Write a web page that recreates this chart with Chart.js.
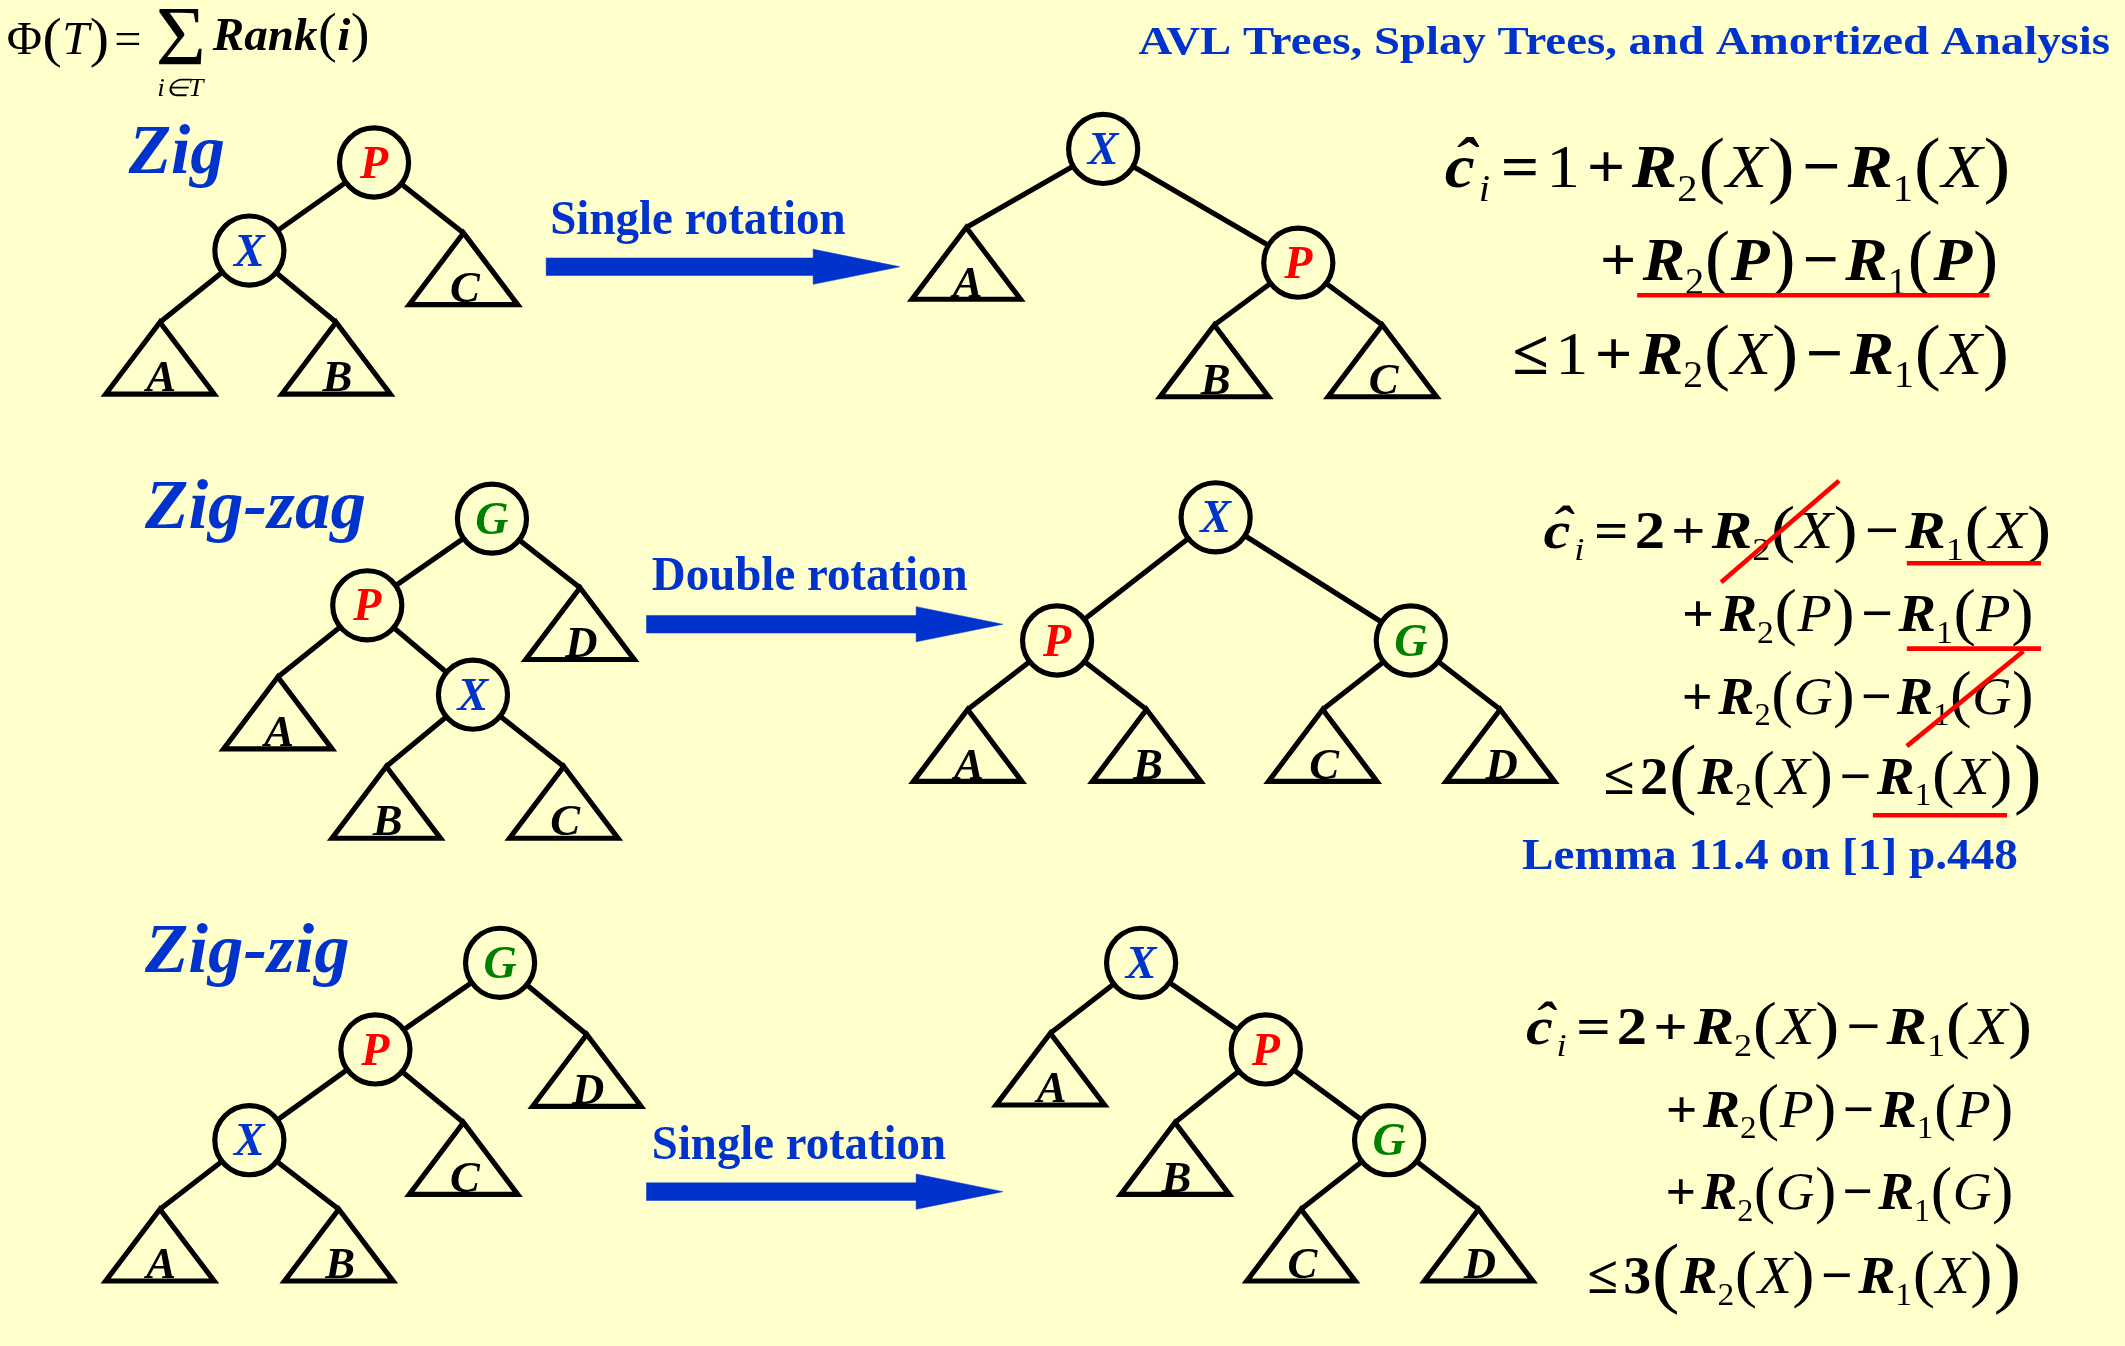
<!DOCTYPE html>
<html>
<head>
<meta charset="utf-8">
<title>Splay tree rotations</title>
<script src="https://cdn.jsdelivr.net/npm/chart.js@4.4.1/dist/chart.umd.min.js"></script>
<style>
  html, body { margin: 0; padding: 0; background: #ffffcc; overflow: hidden; }
  canvas { display: block; }
</style>
</head>
<body>
<canvas id="splay" width="2125" height="1346"></canvas>
<script>
// slide coordinates: 1568 x 994, y grows downwards
var W = 1568, H = 994;

// trees: nodes [label, x, y], subtrees [label, apexX, apexY], edges [parent, child]
var zigBeforeNodes = [['P', 276, 120], ['X', 184, 185]];
var zigBeforeSubs = [['A', 118, 238], ['B', 248, 238], ['C', 342, 172]];
var zigBeforeEdges = [['P', 'X'], ['P', 'C'], ['X', 'A'], ['X', 'B']];

var zigAfterNodes = [['X', 814, 110], ['P', 958, 194]];
var zigAfterSubs = [['A', 713, 168], ['B', 896, 240], ['C', 1020, 240]];
var zigAfterEdges = [['X', 'A'], ['X', 'P'], ['P', 'B'], ['P', 'C']];

var zigzagBeforeNodes = [['G', 363, 383], ['P', 271, 447], ['X', 349, 513]];
var zigzagBeforeSubs = [['D', 428, 434], ['A', 205, 500], ['B', 285, 566], ['C', 416, 566]];
var zigzagBeforeEdges = [['G', 'P'], ['G', 'D'], ['P', 'A'], ['P', 'X'], ['X', 'B'], ['X', 'C']];

var zigzagAfterNodes = [['X', 897, 382], ['P', 780, 473], ['G', 1041, 473]];
var zigzagAfterSubs = [['A', 714, 524], ['B', 846, 524], ['C', 976, 524], ['D', 1107, 524]];
var zigzagAfterEdges = [['X', 'P'], ['X', 'G'], ['P', 'A'], ['P', 'B'], ['G', 'C'], ['G', 'D']];

var zigzigBeforeNodes = [['G', 369, 711], ['P', 277, 775], ['X', 184, 842]];
var zigzigBeforeSubs = [['D', 433, 764], ['C', 342, 829], ['A', 118, 893], ['B', 250, 893]];
var zigzigBeforeEdges = [['G', 'P'], ['G', 'D'], ['P', 'X'], ['P', 'C'], ['X', 'A'], ['X', 'B']];

var zigzigAfterNodes = [['X', 842, 711], ['P', 934, 775], ['G', 1025, 842]];
var zigzigAfterSubs = [['A', 775, 763], ['B', 867, 829], ['C', 960, 893], ['D', 1091, 893]];
var zigzigAfterEdges = [['X', 'A'], ['X', 'P'], ['P', 'B'], ['P', 'G'], ['G', 'C'], ['G', 'D']];

// arrows: [startX, tipX, y]
var arrows = [[403, 664, 197], [477, 740, 461], [477, 740, 880]];
var arrowCaptions = ['Single rotation', 'Double rotation', 'Single rotation'];

// red underlines / strike-throughs on the formulas: [x1, y1, x2, y2]
var redMarks = [
  [1208, 218, 1468, 218],
  [1270, 430, 1357, 355],
  [1407, 416, 1506, 416],
  [1407, 479, 1506, 479],
  [1407, 551, 1493, 481],
  [1382, 602, 1481, 602]
];

var caseNames = ['Zig', 'Zig-zag', 'Zig-zig'];
var titleText = 'AVL Trees, Splay Trees, and Amortized Analysis';
var lemmaText = 'Lemma 11.4 on [1] p.448';

// formula pieces
function R(n, arg, st) {
  return [['R', 'bi'], [n, 's'], ['(', 'p'], [arg, st || 'i'], [')', 'p']];
}
var CI = [['c', 'h'], ['i', 'si']];
var zigLines = [
  CI.concat([['=', 'o'], ['1', 'r'], ['+', 'o']], R('2', 'X'), [['\u2212', 'o']], R('1', 'X')),
  [['+', 'o']].concat(R('2', 'P', 'bi'), [['\u2212', 'o']], R('1', 'P', 'bi')),
  [['\u2264', 'o'], ['1', 'r'], ['+', 'o']].concat(R('2', 'X'), [['\u2212', 'o']], R('1', 'X'))
];
function threeTerms(k) {
  return [
    CI.concat([['=', 'o'], ['2', 'b'], ['+', 'o']], R('2', 'X'), [['\u2212', 'o']], R('1', 'X')),
    [['+', 'o']].concat(R('2', 'P'), [['\u2212', 'o']], R('1', 'P')),
    [['+', 'o']].concat(R('2', 'G'), [['\u2212', 'o']], R('1', 'G')),
    [['\u2264', 'o'], [k, 'b'], ['(', 'P']].concat(R('2', 'X'), [['\u2212', 'o']], R('1', 'X'), [[')', 'P']])
  ];
}
var zigzagLines = threeTerms('2');
var zigzigLines = threeTerms('3');

// where each formula line sits: [x0, x1, baseline, size]
var zigPlace = [[1066, 1484, 138, 46], [1176, 1475, 207, 46], [1111, 1483, 276, 46]];
var zigzagPlace = [[1139, 1514, 405, 39], [1237, 1501, 466, 39], [1237, 1501, 527, 39], [1179, 1507, 586, 39]];
var zigzigPlace = [[1126, 1500, 771, 39], [1225, 1486, 832, 39], [1225, 1486, 893, 39], [1167, 1492, 955, 39]];

var SERIF = '"Liberation Serif", "Times New Roman", serif';
var BLUE = '#0033cc', RED = '#ff0000', GREEN = '#008000', BG = '#ffffcc';
var nodeColors = { X: BLUE, P: RED, G: GREEN };

var canvas = document.getElementById('splay');
var K = canvas.width / W;

// triangle half width and height, node radius, stroke width (slide units)
var TRI_HALF = 40, TRI_H = 53, NODE_R = 25.5, LW = 3.8;

function findPt(nodes, subs, id) {
  var all = nodes.concat(subs);
  for (var i = 0; i < all.length; i++) {
    if (all[i][0] === id) return { x: all[i][1], y: all[i][2] };
  }
}

var datasets = [];
function addTree(nodes, subs, edges) {
  edges.forEach(function (e) {
    datasets.push({
      data: [findPt(nodes, subs, e[0]), findPt(nodes, subs, e[1])],
      showLine: true, borderColor: '#000', borderWidth: LW * K,
      pointRadius: 0, clip: false, order: 3
    });
  });
  subs.forEach(function (s) {
    var ax = s[1], ay = s[2];
    datasets.push({
      data: [
        { x: ax, y: ay }, { x: ax + TRI_HALF, y: ay + TRI_H }, { x: ax - TRI_HALF, y: ay + TRI_H },
        { x: ax, y: ay }, { x: ax + TRI_HALF, y: ay + TRI_H }
      ],
      showLine: true, borderColor: '#000', borderWidth: LW * K, borderJoinStyle: 'miter',
      pointRadius: 0, clip: false, order: 2
    });
  });
  datasets.push({
    data: nodes.map(function (n) { return { x: n[1], y: n[2] }; }),
    showLine: false, pointRadius: NODE_R * K, pointBorderWidth: LW * K,
    pointBackgroundColor: BG, pointBorderColor: '#000', clip: false, order: 1
  });
}
addTree(zigBeforeNodes, zigBeforeSubs, zigBeforeEdges);
addTree(zigAfterNodes, zigAfterSubs, zigAfterEdges);
addTree(zigzagBeforeNodes, zigzagBeforeSubs, zigzagBeforeEdges);
addTree(zigzagAfterNodes, zigzagAfterSubs, zigzagAfterEdges);
addTree(zigzigBeforeNodes, zigzigBeforeSubs, zigzigBeforeEdges);
addTree(zigzigAfterNodes, zigzigAfterSubs, zigzigAfterEdges);

// arrows as filled shapes
arrows.forEach(function (a) {
  var x0 = a[0], tip = a[1], y = a[2], hb = tip - 64;
  datasets.push({
    data: [
      { x: x0, y: y - 6.5 }, { x: hb, y: y - 6.5 }, { x: hb, y: y - 13 }, { x: tip, y: y },
      { x: hb, y: y + 13 }, { x: hb, y: y + 6.5 }, { x: x0, y: y + 6.5 }, { x: x0, y: y - 6.5 }
    ],
    showLine: true, fill: 'shape', backgroundColor: BLUE, borderColor: BLUE, borderWidth: 0.5,
    pointRadius: 0, clip: false, order: 4
  });
});

redMarks.forEach(function (m) {
  datasets.push({
    data: [{ x: m[0], y: m[1] }, { x: m[2], y: m[3] }],
    showLine: true, borderColor: RED, borderWidth: 3.4 * K, borderCapStyle: 'butt',
    pointRadius: 0, clip: false, order: 0
  });
});

function fontOf(st, px) {
  var bold = (st === 'b' || st === 'bi' || st === 'o' || st === 'h') ? 'bold ' : '';
  var ital = (st === 'i' || st === 'bi' || st === 'h' || st === 'si') ? 'italic ' : '';
  return ital + bold + px.toFixed(1) + 'px ' + SERIF;
}

function drawFormula(ctx, sx, sy, tokens, place) {
  var s = place[3] * K;
  var items = tokens.map(function (t) {
    var st = t[1], size = s, dy = 0, pad = 0;
    if (st === 's' || st === 'si') { size = s * 0.6; dy = s * 0.22; pad = st === 'si' ? s * 0.06 : 0; }
    else if (st === 'p') { size = s * 1.2; dy = s * 0.03; pad = s * 0.01; }
    else if (st === 'P') { size = s * 1.5; dy = s * 0.1; pad = s * 0.01; }
    else if (st === 'o' || st === 'e') { pad = s * 0.1; }
    var f = fontOf(st, size);
    ctx.font = f;
    return { t: t[0], st: st, font: f, dy: dy, pad: pad, w: ctx.measureText(t[0]).width };
  });
  var total = items.reduce(function (a, it) { return a + it.w + 2 * it.pad; }, 0);
  var x0 = sx(place[0]), x1 = sx(place[1]);
  ctx.save();
  ctx.translate(x0, sy(place[2]));
  ctx.scale((x1 - x0) / total, 1);
  ctx.fillStyle = '#000';
  ctx.textBaseline = 'alphabetic';
  var x = 0;
  items.forEach(function (it) {
    x += it.pad;
    ctx.font = it.font;
    ctx.textAlign = 'left';
    ctx.fillText(it.t, x, it.dy);
    if (it.st === 'h') {
      ctx.textAlign = 'center';
      ctx.fillText('\u02C6', x + it.w / 2 + s * 0.08, -s * 0.1);
    }
    x += it.w + it.pad;
  });
  ctx.restore();
}

function drawFit(ctx, text, font, x0, x1, base, color) {
  ctx.save();
  ctx.font = font;
  var w = ctx.measureText(text).width;
  ctx.translate(x0, base);
  ctx.scale((x1 - x0) / w, 1);
  ctx.fillStyle = color;
  ctx.textAlign = 'left';
  ctx.textBaseline = 'alphabetic';
  ctx.fillText(text, 0, 0);
  ctx.restore();
}

var captionPlace = [[406, 624, 173], [481, 714, 436], [481, 698, 856]];
var namePlace = [[95, 166, 128], [107, 270, 390], [107, 258, 718]];

var slideText = {
  id: 'slideText',
  beforeDraw: function (chart) {
    var ctx = chart.ctx;
    ctx.save();
    ctx.fillStyle = BG;
    ctx.fillRect(0, 0, chart.width, chart.height);
    ctx.restore();
  },
  beforeDatasetsDraw: function (chart) {
    var ctx = chart.ctx;
    var sx = function (v) { return chart.scales.x.getPixelForValue(v); };
    var sy = function (v) { return chart.scales.y.getPixelForValue(v); };

    // potential definition, top left
    drawFormula(ctx, sx, sy, [['\u03A6', 'r'], ['(', 'p'], ['T', 'i'], [')', 'p'], ['=', 'e']], [5, 108, 40, 34]);
    drawFit(ctx, '\u03A3', (62 * K) + 'px ' + SERIF, sx(115), sx(152), sy(48), '#000');
    drawFit(ctx, 'i\u2208T', 'italic ' + (18 * K) + 'px ' + SERIF, sx(116), sx(150), sy(71), '#000');
    drawFormula(ctx, sx, sy, [['Rank', 'bi'], ['(', 'p'], ['i', 'bi'], [')', 'p']], [157, 273, 37, 34]);

    // title
    drawFit(ctx, titleText, 'bold ' + (30 * K) + 'px ' + SERIF, sx(840), sx(1557), sy(40), BLUE);

    // case names
    caseNames.forEach(function (n, i) {
      var p = namePlace[i];
      drawFit(ctx, n, 'italic bold ' + (52 * K) + 'px ' + SERIF, sx(p[0]), sx(p[1]), sy(p[2]), BLUE);
    });

    // arrow captions
    arrowCaptions.forEach(function (c, i) {
      var p = captionPlace[i];
      drawFit(ctx, c, 'bold ' + (36 * K) + 'px ' + SERIF, sx(p[0]), sx(p[1]), sy(p[2]), BLUE);
    });

    // amortized cost formulas
    zigLines.forEach(function (l, i) { drawFormula(ctx, sx, sy, l, zigPlace[i]); });
    zigzagLines.forEach(function (l, i) { drawFormula(ctx, sx, sy, l, zigzagPlace[i]); });
    zigzigLines.forEach(function (l, i) { drawFormula(ctx, sx, sy, l, zigzigPlace[i]); });

    drawFit(ctx, lemmaText, 'bold ' + (32 * K) + 'px ' + SERIF, sx(1123), sx(1489), sy(642), BLUE);
  },
  afterDatasetsDraw: function (chart) {
    var ctx = chart.ctx;
    var sx = function (v) { return chart.scales.x.getPixelForValue(v); };
    var sy = function (v) { return chart.scales.y.getPixelForValue(v); };
    ctx.save();
    ctx.textAlign = 'center';
    ctx.textBaseline = 'alphabetic';
    var allNodes = [zigBeforeNodes, zigAfterNodes, zigzagBeforeNodes, zigzagAfterNodes, zigzigBeforeNodes, zigzigAfterNodes];
    var allSubs = [zigBeforeSubs, zigAfterSubs, zigzagBeforeSubs, zigzagAfterSubs, zigzigBeforeSubs, zigzigAfterSubs];
    var ns = 34 * K;
    ctx.font = 'italic bold ' + ns + 'px ' + SERIF;
    allNodes.forEach(function (list) {
      list.forEach(function (n) {
        ctx.fillStyle = nodeColors[n[0]];
        ctx.fillText(n[0], sx(n[1]), sy(n[2]) + ns * 0.33);
      });
    });
    ctx.font = 'italic bold ' + (33 * K) + 'px ' + SERIF;
    ctx.fillStyle = '#000';
    allSubs.forEach(function (list) {
      list.forEach(function (s) {
        ctx.fillText(s[0], sx(s[1] + 1), sy(s[2] + TRI_H - 2));
      });
    });
    ctx.restore();
  }
};

new Chart(canvas, {
  type: 'scatter',
  data: { datasets: datasets },
  options: {
    responsive: false,
    animation: false,
    devicePixelRatio: 1,
    events: [],
    layout: { padding: 0, autoPadding: false },
    scales: {
      x: { type: 'linear', min: 0, max: W, display: false },
      y: { type: 'linear', min: 0, max: H, reverse: true, display: false }
    },
    plugins: {
      legend: { display: false },
      tooltip: { enabled: false }
    }
  },
  plugins: [slideText]
});
</script>
</body>
</html>
